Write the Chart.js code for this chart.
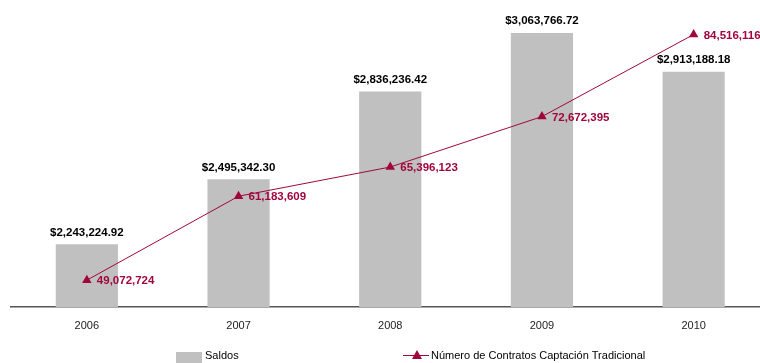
<!DOCTYPE html>
<html>
<head>
<meta charset="utf-8">
<script src="https://cdn.jsdelivr.net/npm/chart.js@4/dist/chart.umd.min.js"></script>
<style>
  html, body { margin: 0; padding: 0; background: #fff; overflow: hidden; }
  #saldosChart { display: block; }
</style>
</head>
<body>
<canvas id="saldosChart" width="775" height="363"></canvas>
<script>
const years = ['2006', '2007', '2008', '2009', '2010'];
const saldos = [2243224.92, 2495342.30, 2836236.42, 3063766.72, 2913188.18];
const contratos = [49072724, 61183609, 65396123, 72672395, 84516116];

const barColor = '#C0C0C0';
const lineColor = '#A0063C';
const labelFont = 'bold 11.5px "Liberation Sans", Arial, sans-serif';
const legendFont = '11px "Liberation Sans", Arial, sans-serif';

// value labels over bars and next to the line points, plus a hand drawn legend
const valueLabels = {
  id: 'valueLabels',
  afterDatasetsDraw(chart) {
    const ctx = chart.ctx;
    ctx.save();
    ctx.font = labelFont;

    const bars = chart.getDatasetMeta(0);
    ctx.fillStyle = '#000';
    ctx.textAlign = 'center';
    ctx.textBaseline = 'bottom';
    bars.data.forEach((bar, i) => {
      const v = chart.data.datasets[0].data[i];
      const txt = '$' + v.toLocaleString('en-US', { minimumFractionDigits: 2, maximumFractionDigits: 2 });
      ctx.fillText(txt, bar.x, bar.y - 6);
    });

    const pts = chart.getDatasetMeta(1);
    ctx.fillStyle = lineColor;
    ctx.textAlign = 'left';
    ctx.textBaseline = 'middle';
    pts.data.forEach((p, i) => {
      const v = chart.data.datasets[1].data[i];
      ctx.fillText(v.toLocaleString('en-US'), p.x + 10, p.y + 1);
    });

    // legend
    ctx.font = legendFont;
    ctx.fillStyle = barColor;
    ctx.fillRect(176, 352, 26, 12);
    ctx.fillStyle = '#000';
    ctx.fillText(chart.data.datasets[0].label, 205, 356);

    ctx.strokeStyle = lineColor;
    ctx.lineWidth = 1;
    ctx.beginPath();
    ctx.moveTo(403, 355.5);
    ctx.lineTo(429, 355.5);
    ctx.stroke();
    ctx.fillStyle = lineColor;
    ctx.beginPath();
    ctx.moveTo(417, 350);
    ctx.lineTo(422, 359);
    ctx.lineTo(412, 359);
    ctx.closePath();
    ctx.fill();
    ctx.fillStyle = '#000';
    ctx.fillText(chart.data.datasets[1].label, 431, 356);
    ctx.restore();
  }
};

new Chart(document.getElementById('saldosChart'), {
  data: {
    labels: years,
    datasets: [{
      type: 'bar',
      label: 'Saldos',
      data: saldos,
      backgroundColor: barColor,
      barPercentage: 0.41,
      categoryPercentage: 1,
      yAxisID: 'y',
      order: 1
    }, {
      type: 'line',
      label: 'Número de Contratos Captación Tradicional',
      data: contratos,
      borderColor: lineColor,
      backgroundColor: lineColor,
      borderWidth: 1,
      pointStyle: 'triangle',
      pointRadius: 5.5,
      pointBackgroundColor: lineColor,
      pointBorderWidth: 0,
      tension: 0,
      yAxisID: 'y1',
      order: 0
    }]
  },
  options: {
    responsive: false,
    animation: false,
    layout: { padding: { left: 11, right: 1, top: 5, bottom: 0 } },
    plugins: {
      legend: { display: false },
      tooltip: { enabled: false }
    },
    scales: {
      x: {
        grid: { display: false, drawTicks: false },
        border: { display: true, color: '#555', width: 1.5 },
        ticks: {
          padding: 12,
          color: '#222',
          font: { family: '"Liberation Sans", Arial, sans-serif', size: 11 }
        },
        afterFit(scale) { scale.height = 56; }
      },
      y: {
        display: false,
        min: 2000000,
        max: 3170000
      },
      y1: {
        display: false,
        min: 45200000,
        max: 88700000
      }
    }
  },
  plugins: [valueLabels]
});
</script>
</body>
</html>
